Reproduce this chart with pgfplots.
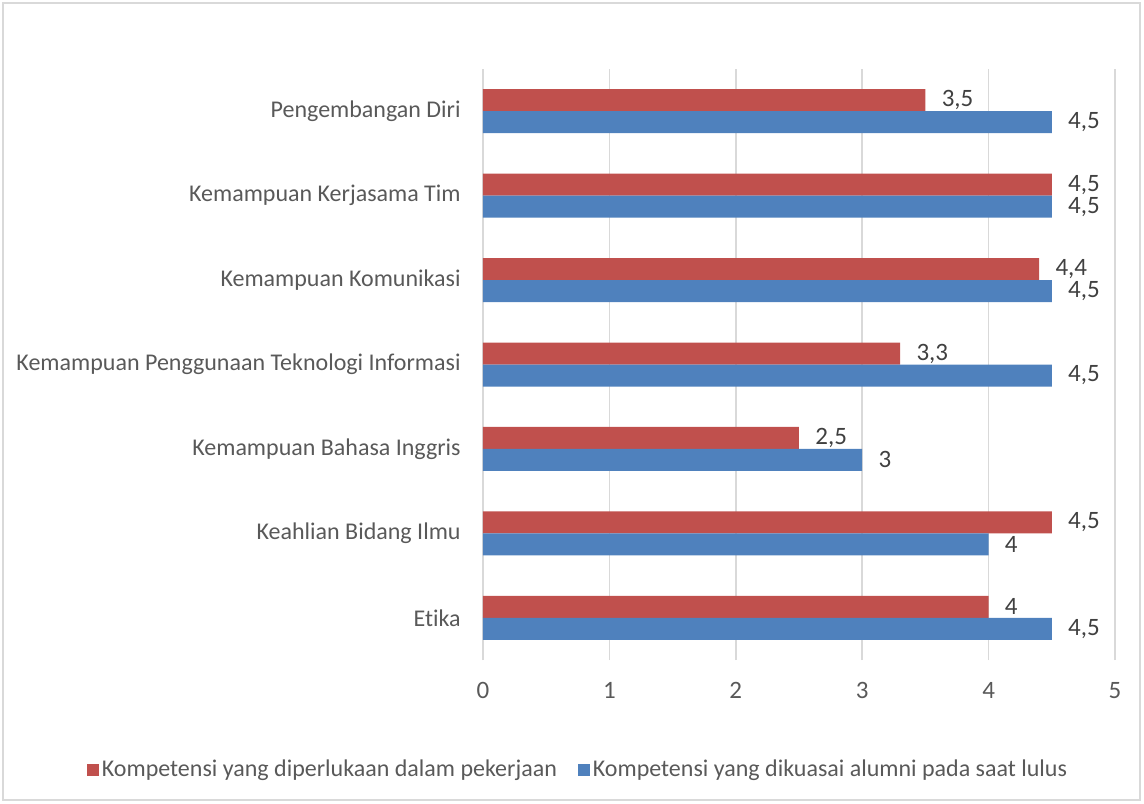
\documentclass[border=0pt]{standalone}
\usepackage{pgfplots}
\pgfplotsset{compat=1.18}
\usepackage{fontspec}
\setmainfont{Carlito}[Ligatures=NoCommon]
\definecolor{cred}{HTML}{C0504D}
\definecolor{cblue}{HTML}{4F81BD}
\definecolor{cgrid}{HTML}{D9D9D9}
\definecolor{ctext}{HTML}{595959}
\definecolor{clabel}{HTML}{404040}
\begin{document}
\fontsize{12}{14}\selectfont
\begin{tikzpicture}
\useasboundingbox (-241.5pt,-71.5pt) rectangle (330.5pt,330pt);
\draw[cgrid, line width=0.6pt] (-240pt,-70pt) rectangle (328.5pt,328.5pt);
\begin{axis}[
  at={(0pt,0pt)}, anchor=south west,
  scale only axis, width=316pt, height=295.5pt,
  xbar, bar width=11pt,
  xmin=0, xmax=5, ymin=-0.5, ymax=6.5,
  xtick={0,1,2,3,4,5},
  ytick={0,1,2,3,4,5,6},
  yticklabels={Etika, Keahlian Bidang Ilmu, Kemampuan Bahasa Inggris, Kemampuan Penggunaan Teknologi Informasi, Kemampuan Komunikasi, Kemampuan Kerjasama Tim, Pengembangan Diri},
  xmajorgrids, grid style={cgrid, line width=0.8pt},
  axis line style={draw=none}, major tick length=0pt,
  xticklabel style={yshift=-7pt, font=\fontsize{12.5}{14}\selectfont, text=ctext},
  yticklabel style={xshift=-7pt, font=\fontsize{12}{14}\selectfont, text=ctext},
  /pgf/number format/use comma,
  /pgf/number format/assume math mode=true,
  nodes near coords,
  nodes near coords style={anchor=west, xshift=4pt, font=\fontsize{12.5}{14}\selectfont, text=clabel},
  legend columns=2,
  legend style={draw=none, fill=none, at={(0.1511,-0.1861)}, anchor=center,
    font=\fontsize{12}{14}\selectfont, text=ctext,
    /tikz/every even column/.append style={column sep=9pt},
    nodes={inner xsep=1.5pt}},
  legend image code/.code={\fill[#1] (0pt,-3pt) rectangle (6pt,3pt);},
]
\addplot[fill=cred, draw=none, bar shift=5.5pt] coordinates {(4,0) (4.5,1) (2.5,2) (3.3,3) (4.4,4) (4.5,5) (3.5,6)};
\addlegendentry{Kompetensi yang diperlukaan dalam pekerjaan}
\addplot[fill=cblue, draw=none, bar shift=-5.5pt] coordinates {(4.5,0) (4,1) (3,2) (4.5,3) (4.5,4) (4.5,5) (4.5,6)};
\addlegendentry{Kompetensi yang dikuasai alumni pada saat lulus}
\end{axis}
\end{tikzpicture}
\end{document}
